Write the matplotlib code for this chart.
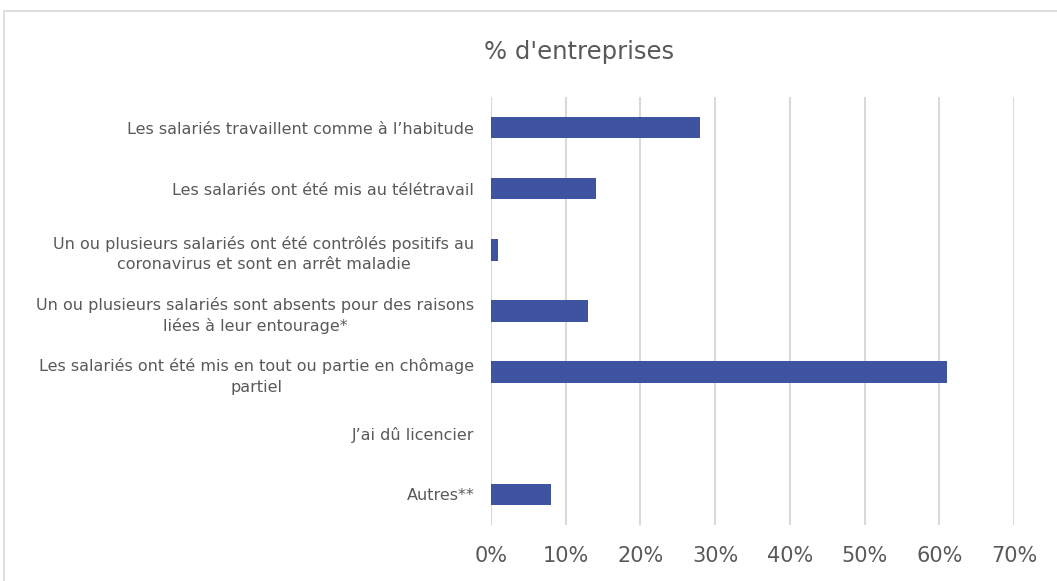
import numpy as np
import matplotlib.pyplot as plt
from matplotlib.patches import Rectangle
from matplotlib.ticker import PercentFormatter

# donnees
categories = [
    "Les salariés travaillent comme à l’habitude",
    "Les salariés ont été mis au télétravail",
    "Un ou plusieurs salariés ont été contrôlés positifs au\ncoronavirus et sont en arrêt maladie",
    "Un ou plusieurs salariés sont absents pour des raisons\nliées à leur entourage*",
    "Les salariés ont été mis en tout ou partie en chômage\npartiel",
    "J’ai dû licencier",
    "Autres**",
]
valeurs = [28, 14, 1, 13, 61, 0, 8]
x_ticks = [0, 10, 20, 30, 40, 50, 60, 70]

gris = '#595959'
bleu = '#3F54A0'

fig = plt.figure(figsize=(10.57, 5.81), dpi=100)
ax = fig.add_axes([0.4645, 0.0964, 0.4948, 0.7366])

y = np.arange(len(categories))
ax.barh(y, valeurs, height=0.35, color=bleu, zorder=3)
ax.set_ylim(len(categories) - 0.5, -0.5)
ax.set_xlim(0, 70)

ax.set_yticks(y)
ax.set_yticklabels(categories, fontsize=11.5, color=gris)
for lbl in ax.get_yticklabels():
    lbl.set_multialignment('center')
    lbl.set_linespacing(1.45)
ax.set_xticks(x_ticks)
ax.xaxis.set_major_formatter(PercentFormatter(decimals=0))
ax.tick_params(axis='x', labelsize=15, colors=gris, length=0, pad=15)
ax.tick_params(axis='y', length=0, pad=12)

ax.grid(axis='x', color='#d9d9d9', lw=1.5, zorder=0)
for s in ax.spines.values():
    s.set_visible(False)

fig.text(0.548, 0.91, "% d'entreprises", fontsize=17.5, color=gris, ha='center', va='center')

# cadre
fig.patches.append(Rectangle((0.004, -0.05), 1.2, 1.031, transform=fig.transFigure,
                             fill=False, edgecolor='#d9d9d9', lw=1.2))

plt.savefig("out.png", dpi=100)
